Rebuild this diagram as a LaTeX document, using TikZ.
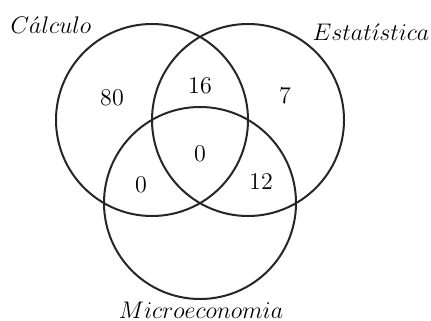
\documentclass[tikz,border=0pt]{standalone}
\begin{document}
\begin{tikzpicture}[x=0.5pt,y=-0.5pt,
  setcircle/.style={draw=black!85,line width=1pt},
  setlabel/.style={anchor=base,inner sep=0pt,font=\large},
  count/.style={inner sep=0pt,font=\large}]
\useasboundingbox (0,0) rectangle (431,320);
\coordinate (cC) at (152,120);
\coordinate (cE) at (248,120);
\coordinate (cM) at (200,203);
\draw[setcircle] (cC) circle[radius=48pt];
\draw[setcircle] (cE) circle[radius=48pt];
\draw[setcircle] (cM) circle[radius=48pt];
\node[setlabel] (lC) at (51,34) {$C\acute{a}lculo$};
\node[setlabel] (lE) at (371,41) {$Estat\acute{\imath}stica$};
\node[setlabel] (lM) at (201,318) {$Microeconomia$};
\node[count] (n80) at (112,97.5) {80};
\node[count] (n16) at (200,85.5) {16};
\node[count] (n7) at (285,96) {7};
\node[count] (n0c) at (200,154) {0};
\node[count] (n0l) at (141,184.5) {0};
\node[count] (n12) at (261,181.5) {12};
\end{tikzpicture}
\end{document}
